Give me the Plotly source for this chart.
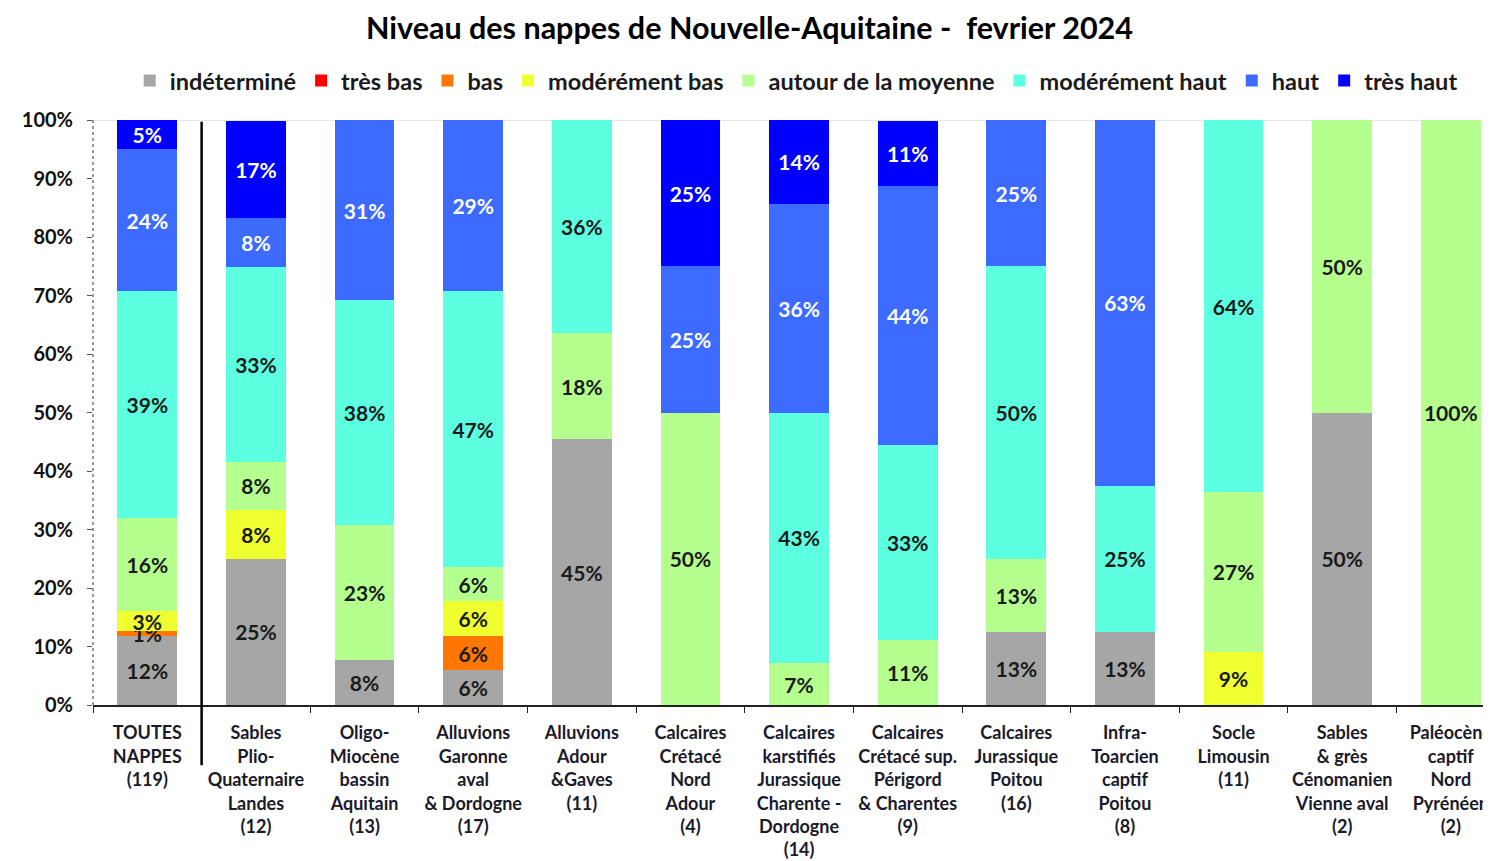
import math
import plotly.graph_objects as go

# categories (x tick labels, multi-line as on the original)
categories = [
    "TOUTES<br>NAPPES<br>(119)",
    "Sables<br>Plio-<br>Quaternaire<br>Landes<br>(12)",
    "Oligo-<br>Miocène<br>bassin<br>Aquitain<br>(13)",
    "Alluvions<br>Garonne<br>aval<br>& Dordogne<br>(17)",
    "Alluvions<br>Adour<br>&Gaves<br>(11)",
    "Calcaires<br>Crétacé<br>Nord<br>Adour<br>(4)",
    "Calcaires<br>karstifiés<br>Jurassique<br>Charente -<br>Dordogne<br>(14)",
    "Calcaires<br>Crétacé sup.<br>Périgord<br>& Charentes<br>(9)",
    "Calcaires<br>Jurassique<br>Poitou<br>(16)",
    "Infra-<br>Toarcien<br>captif<br>Poitou<br>(8)",
    "Socle<br>Limousin<br>(11)",
    "Sables<br>& grès<br>Cénomanien<br>Vienne aval<br>(2)",
    "Paléocène<br>captif<br>Nord<br>Pyrénéen<br>(2)",
]

# share of each class per aquifer group, in %
indetermine = [11.8, 25.0, 7.7, 5.9, 45.4, 0, 0, 0, 12.5, 12.5, 0, 50.0, 0]
tres_bas = [0, 0, 0, 0, 0, 0, 0, 0, 0, 0, 0, 0, 0]
bas = [0.8, 0, 0, 5.9, 0, 0, 0, 0, 0, 0, 0, 0, 0]
moderement_bas = [3.4, 8.3, 0, 5.9, 0, 0, 0, 0, 0, 0, 9.1, 0, 0]
autour_moyenne = [16.0, 8.3, 23.1, 5.9, 18.2, 50.0, 7.1, 11.1, 12.5, 0, 27.3, 50.0, 100.0]
moderement_haut = [38.7, 33.3, 38.4, 47.1, 36.4, 0, 42.9, 33.3, 50.0, 25.0, 63.6, 0, 0]
haut = [24.4, 8.3, 30.8, 29.4, 0, 25.0, 35.7, 44.4, 25.0, 62.5, 0, 0, 0]
tres_haut = [5.0, 16.7, 0, 0, 0, 25.0, 14.3, 11.1, 0, 0, 0, 0, 0]

series = [
    ("indéterminé", indetermine, "#a6a6a6", "#1a1a1a"),
    ("très bas", tres_bas, "#ff0000", "#1a1a1a"),
    ("bas", bas, "#ff7700", "#1a1a1a"),
    ("modérément bas", moderement_bas, "#f0ff30", "#1a1a1a"),
    ("autour de la moyenne", autour_moyenne, "#b4ff8e", "#1a1a1a"),
    ("modérément haut", moderement_haut, "#5cffe0", "#1a1a1a"),
    ("haut", haut, "#3d6bff", "#ffffff"),
    ("très haut", tres_haut, "#0000ff", "#ffffff"),
]

FONT = "Lato, 'Open Sans', sans-serif"


def pct(v):
    # Excel-style rounding (half up)
    return f"{math.floor(v + 0.5)}%" if v > 0 else ""


fig = go.Figure()
for name, vals, color, txtcol in series:
    fig.add_trace(go.Bar(
        name=name,
        x=categories,
        y=vals,
        marker=dict(color=color, line=dict(width=0)),
        text=[pct(v) for v in vals],
        textposition="inside",
        insidetextanchor="middle",
        textangle=0,
        constraintext="none",
        textfont=dict(family=FONT, size=21, color=txtcol, weight="bold"),
        width=0.55,
    ))

# separator between the total and the individual groups
fig.add_shape(type="line", xref="x", yref="paper", x0=0.5, x1=0.5,
              y0=-0.103, y1=0.997, line=dict(color="black", width=2.5))
# light line at 100%
fig.add_shape(type="line", xref="paper", yref="y", x0=0, x1=1, y0=100, y1=100,
              line=dict(color="#d0d0d0", width=1), layer="below")
# dotted y axis line
fig.add_shape(type="line", xref="paper", yref="paper", x0=0, x1=0, y0=0, y1=1,
              line=dict(color="#777", width=1.5, dash="dot"))

# the page body adds an 8px margin, so the figure is 8px smaller
fig.update_layout(
    barmode="stack",
    width=1483, height=853,
    margin=dict(l=85, r=0, t=112, b=156),
    paper_bgcolor="white", plot_bgcolor="white",
    font=dict(family=FONT, color="#1a1a1a"),
    title=dict(text="<b>Niveau des nappes de Nouvelle-Aquitaine -  fevrier 2024</b>",
               x=0.5, xanchor="center", y=0.9765, yanchor="middle",
               font=dict(family=FONT, size=30.5, color="black")),
    legend=dict(orientation="h", x=0.503, xanchor="center", y=1.067, yanchor="middle",
                font=dict(family=FONT, size=23.5, color="#1a1a1a", weight="bold"),
                traceorder="normal", itemwidth=30, bgcolor="rgba(0,0,0,0)"),
    uniformtext=dict(minsize=21, mode="show"),
    showlegend=True,
)
fig.update_xaxes(
    type="category", range=[-0.5, 12.37], automargin=False,
    showline=True, linecolor="#222", linewidth=1.5,
    ticks="outside", tickson="boundaries", ticklen=6, tickcolor="#222",
    tickfont=dict(family=FONT, size=18, color="#1a1a2a", weight="bold"),
    ticklabelstandoff=11,
    tickangle=0, showgrid=False,
)
fig.update_yaxes(
    range=[0, 100], dtick=10, ticksuffix="%", automargin=False,
    showline=False,
    ticks="outside", ticklen=5, tickcolor="#555",
    tickfont=dict(family=FONT, size=20, color="#111", weight="bold"),
    ticklabelstandoff=10,
    showgrid=False, zeroline=False,
)

fig.write_html("out.html")
